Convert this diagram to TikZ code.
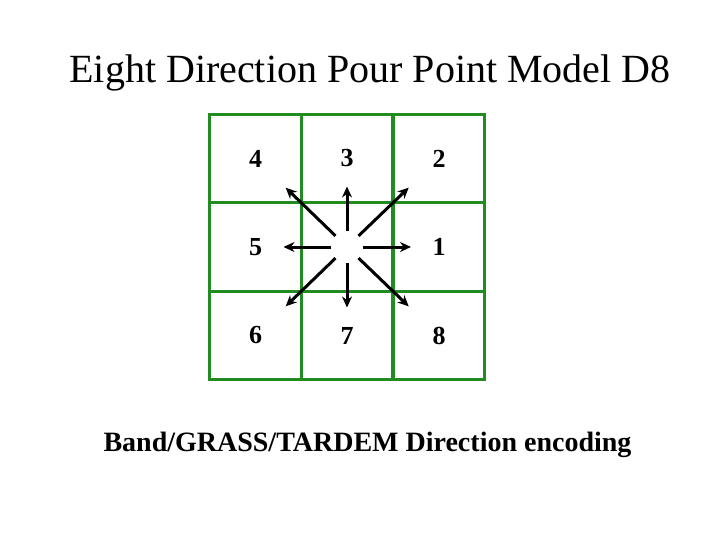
\documentclass[tikz,border=0pt]{standalone}
\usepackage{fontspec}
\setmainfont{Liberation Serif}
\usetikzlibrary{arrows.meta}
\definecolor{cellgreen}{RGB}{34,139,34}
\begin{document}
\begin{tikzpicture}[x=1pt, y=-1pt,
	cell/.style={draw=cellgreen, line width=3pt, minimum width=91.7pt, minimum height=88.7pt, font=\fontsize{26}{30}\selectfont\bfseries},
	dirarrow/.style={-{Stealth[length=11pt, width=10pt]}, line width=3pt, shorten <=16pt, shorten >=28pt},
	diagarrow/.style={dirarrow, shorten >=42pt}]
	\useasboundingbox[fill=white] (0,0) rectangle (720,540);

	\node[text=black] (title) at (370,73) {\fontsize{40}{44}\selectfont Eight Direction Pour Point Model D8};

	\node[cell] (d4) at (255.5,158.5) {4};
	\node[cell] (d3) at (347,158.5) {3};
	\node[cell] (d2) at (439,158.5) {2};
	\node[cell] (d5) at (255.5,247) {5};
	\node[cell] (d0) at (347,247) {};
	\node[cell] (d1) at (439,247) {1};
	\node[cell] (d6) at (255.5,335.5) {6};
	\node[cell] (d7) at (347,335.5) {7};
	\node[cell] (d8) at (439,335.5) {8};

	\draw[dirarrow] (d0.center) -- (d1.center);
	\draw[dirarrow] (d0.center) -- (d3.center);
	\draw[dirarrow] (d0.center) -- (d5.center);
	\draw[dirarrow] (d0.center) -- (d7.center);
	\draw[diagarrow] (d0.center) -- (d2.center);
	\draw[diagarrow] (d0.center) -- (d4.center);
	\draw[diagarrow] (d0.center) -- (d6.center);
	\draw[diagarrow] (d0.center) -- (d8.center);

	\node[text=black] (caption) at (367.5,445) {\fontsize{28}{32}\selectfont\bfseries Band/GRASS/TARDEM Direction encoding};
\end{tikzpicture}
\end{document}
